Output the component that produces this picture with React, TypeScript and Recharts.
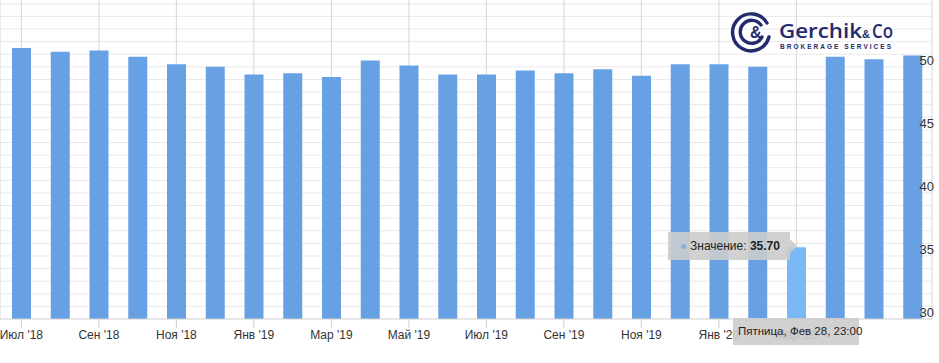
import React from 'react';
import { BarChart, Bar, Cell, XAxis, YAxis, CartesianGrid, Tooltip } from 'recharts';

// monthly periods, one per bar
const periods = [
    "Июл '18", "Авг '18", "Сен '18", "Окт '18", "Ноя '18", "Дек '18",
    "Янв '19", "Фев '19", "Мар '19", "Апр '19", "Май '19", "Июн '19",
    "Июл '19", "Авг '19", "Сен '19", "Окт '19", "Ноя '19", "Дек '19",
    "Янв '20", "Фев '20", "Мар '20", "Апр '20", "Май '20", "Июн '20",
];
const values = [
    51.5, 51.2, 51.3, 50.8, 50.2, 50.0,
    49.4, 49.5, 49.2, 50.5, 50.1, 49.4,
    49.4, 49.7, 49.5, 49.8, 49.3, 50.2,
    50.2, 50.0, 35.7, 50.8, 50.6, 50.9,
];
const xTicks = [
    "Июл '18", "Сен '18", "Ноя '18", "Янв '19", "Мар '19", "Май '19",
    "Июл '19", "Сен '19", "Ноя '19", "Янв '20", "Мар '20",
];
const yTicks = [30, 35, 40, 45, 50];
const yGridValues = [
    31, 32, 33, 34, 35, 36, 37, 38, 39, 40, 41, 42,
    43, 44, 45, 46, 47, 48, 49, 50, 51, 52, 53, 54, 55,
];
const highlightIndex = 20;
const hoverDate = 'Пятница, Фев 28, 23:00';

const data = periods.map((p, i) => ({ period: p, value: values[i] }));

const BAR = '#68a0e4';
const BAR_HOVER = '#7ab8f4';
const NAVY = '#232a6d';
const TIP_BG = 'rgba(204, 204, 204, 0.9)';

const tipBox: React.CSSProperties = {
    position: 'absolute',
    background: TIP_BG,
    color: '#222',
    fontSize: 12,
    whiteSpace: 'nowrap',
    boxSizing: 'border-box',
};

const ValueTip = () => {
    const v = values[highlightIndex];
    return (
        <div style={{ position: 'relative', width: 130, height: 30 }}>
            <div style={{ ...tipBox, left: 0, top: 0, width: 122, height: 28, padding: '7px 0 0 22px' }}>
                <span style={{ position: 'absolute', left: 13, top: 12, width: 5, height: 5, borderRadius: 3, background: '#7cb5ec' }} />
                Значение: <b>{v.toFixed(2)}</b>
            </div>
            <div style={{
                position: 'absolute', left: 122, top: 7, width: 0, height: 0,
                borderTop: '7px solid transparent', borderBottom: '7px solid transparent',
                borderLeft: '7px solid ' + TIP_BG,
            }} />
            <div style={{ ...tipBox, left: 65, top: 86, width: 126, height: 27, padding: '7px 0 0 5px', fontSize: 11.5 }}>
                {hoverDate}
            </div>
        </div>
    );
};

const YTick = (props: any) => {
    const { x, y, payload } = props;
    return (
        <text x={x + 2} y={y - 2} textAnchor="end" fill="#333" fontSize={13}>
            {payload.value}
        </text>
    );
};

const Logo = () => (
    <svg width={170} height={50} style={{ position: 'absolute', left: 728, top: 6 }}>
        <g fill="none" stroke={NAVY} strokeWidth={3.4} strokeLinecap="round">
            <path d="M 39 17 A 18.5 18.5 0 1 0 41 31" />
            <path d="M 33 19 A 11.5 11.5 0 1 0 34 31" />
        </g>
        <text x={22} y={32} fill={NAVY} fontSize={16} fontWeight={700} fontFamily="Arial, sans-serif">&amp;</text>
        <text x={51} y={32} fill={NAVY} fontSize={20} fontWeight={600} fontFamily="'Open Sans', sans-serif"
            textLength={83} lengthAdjust="spacingAndGlyphs">Gerchik</text>
        <text x={134} y={32} fill={NAVY} fontSize={11} fontWeight={700} fontFamily="Arial, sans-serif">&amp;</text>
        <text x={144} y={32} fill={NAVY} fontSize={20} fontWeight={600} fontFamily="'Open Sans', sans-serif"
            textLength={21} lengthAdjust="spacingAndGlyphs">Co</text>
        <text x={52} y={43} fill={NAVY} fontSize={6.5} fontWeight={700} fontFamily="Arial, sans-serif"
            textLength={111} lengthAdjust="spacing">BROKERAGE SERVICES</text>
    </svg>
);

const App: React.FC = () => {
    return (
        <div style={{ position: 'absolute', left: 0, top: 0, width: 939, height: 363, background: '#fff', fontFamily: '"Liberation Sans", Arial, sans-serif' }}>
            <BarChart
                width={939}
                height={363}
                data={data}
                margin={{ top: 0, right: 0, left: 0, bottom: 0 }}
            >
                <CartesianGrid
                    horizontal={true}
                    vertical={false}
                    stroke="#e9e9e9"
                    horizontalValues={yGridValues}
                />
                <CartesianGrid horizontal={false} vertical={true} stroke="#d6d6d6" />
                <XAxis
                    dataKey="period"
                    ticks={xTicks}
                    interval={0}
                    height={44}
                    padding={{ left: 2, right: 0 }}
                    tickSize={9}
                    tickMargin={2}
                    stroke="#cfcfcf"
                    tick={{ fill: '#333', fontSize: 12 }}
                />
                <YAxis
                    orientation="right"
                    width={7}
                    domain={[30, 55.3]}
                    allowDataOverflow
                    ticks={yTicks}
                    interval={0}
                    axisLine={false}
                    tickLine={false}
                    tickSize={0}
                    tickMargin={0}
                    tick={<YTick />}
                />
                <Tooltip
                    active
                    defaultIndex={highlightIndex}
                    cursor={false}
                    isAnimationActive={false}
                    position={{ x: 668, y: 232 }}
                    content={<ValueTip />}
                    wrapperStyle={{ outline: 'none', zIndex: 10 }}
                />
                <Bar dataKey="value" barSize={19} isAnimationActive={false}>
                    {data.map((d, i) => (
                        <Cell key={d.period} fill={i === highlightIndex ? BAR_HOVER : BAR} />
                    ))}
                </Bar>
            </BarChart>
            <Logo />
        </div>
    );
};

export default App;
